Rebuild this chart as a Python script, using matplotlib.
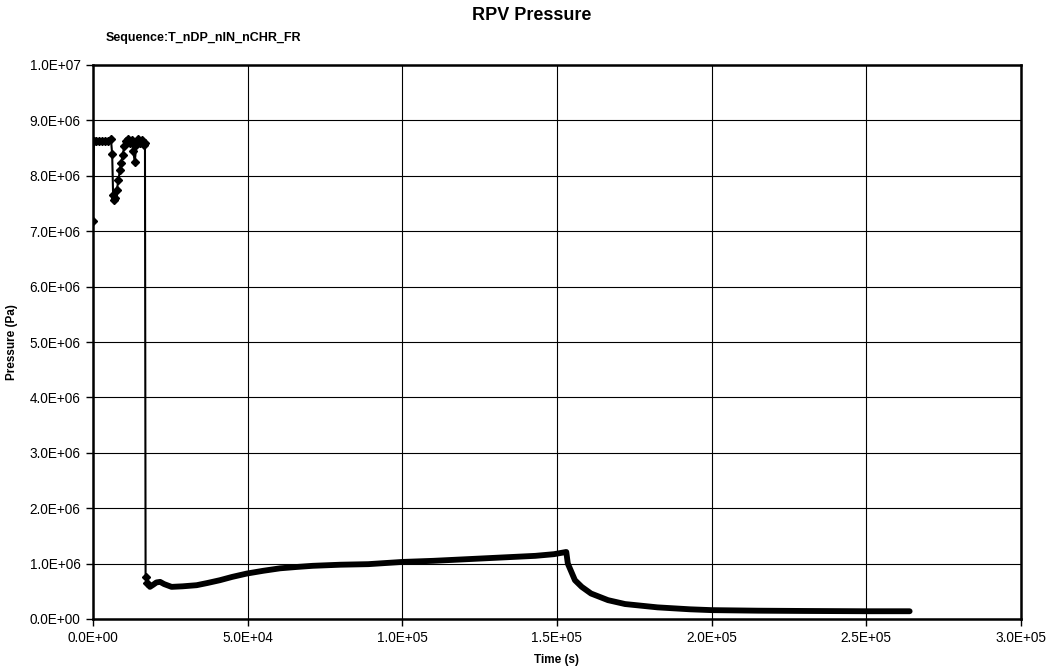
import matplotlib
matplotlib.use("Agg")
import matplotlib.pyplot as plt
from matplotlib.ticker import FuncFormatter, MultipleLocator

plt.rcParams['font.family'] = ['Liberation Sans', 'DejaVu Sans']

# Data (time in s, pressure in Pa)
time_s = [0, 300, 1000, 2000, 3000, 4000, 5000, 5800, 6200, 6500, 6800, 7200,
          7700, 8200, 8700, 9100, 9600, 10100, 10700, 11300, 11900, 12500,
          13000, 13500, 14000, 14600, 15200, 15800, 16400, 16800,
          17000, 17600, 18400, 19500, 20500, 21700, 23000, 25400, 29000,
          33500, 37000, 41000, 45000, 49700, 55000, 60500, 66000, 71000,
          80000, 89000, 100000, 110000, 121000, 132000, 143000, 149000,
          153000, 153500, 155800, 158000, 161000, 166500, 172000, 182500,
          193000, 200000, 215000, 230000, 250000, 264000]
pressure_pa = [7.19e6, 8.62e6, 8.62e6, 8.63e6, 8.62e6, 8.63e6, 8.62e6, 8.66e6,
               8.39e6, 7.65e6, 7.56e6, 7.60e6, 7.74e6, 7.92e6, 8.10e6, 8.23e6,
               8.38e6, 8.53e6, 8.62e6, 8.66e6, 8.60e6, 8.65e6, 8.45e6, 8.25e6,
               8.55e6, 8.66e6, 8.60e6, 8.65e6, 8.55e6, 8.60e6,
               0.76e6, 0.65e6, 0.58e6, 0.62e6, 0.66e6, 0.67e6, 0.63e6, 0.58e6,
               0.59e6, 0.61e6, 0.65e6, 0.70e6, 0.76e6, 0.82e6, 0.87e6, 0.915e6,
               0.94e6, 0.96e6, 0.98e6, 0.99e6, 1.03e6, 1.05e6, 1.08e6, 1.11e6,
               1.14e6, 1.17e6, 1.21e6, 1.00e6, 0.70e6, 0.58e6, 0.46e6, 0.34e6,
               0.27e6, 0.21e6, 0.175e6, 0.16e6, 0.15e6, 0.145e6, 0.14e6, 0.14e6]

title = "RPV Pressure"
subtitle = "Sequence:T_nDP_nIN_nCHR_FR"
x_label = "Time (s)"
y_label = "Pressure (Pa)"

fig = plt.figure(figsize=(10.54, 6.72), dpi=100)
ax = fig.add_axes([93/1054, 53/672, 928/1054, 554/672])

n_early = sum(1 for t in time_s if t <= 17600)
ax.plot(time_s, pressure_pa, color='black', lw=1.5, marker='D', ms=4,
        markevery=list(range(n_early)), zorder=3)
# dense marker band in the slow phase
late_t = [t for t in time_s if t >= 17600]
late_p = [p for t, p in zip(time_s, pressure_pa) if t >= 17600]
ax.plot(late_t, late_p, color='black', lw=4.2, solid_capstyle='round',
        solid_joinstyle='round', zorder=3)

ax.set_xlim(0, 3.0e5)
ax.set_ylim(0, 1.0e7)
ax.xaxis.set_major_locator(MultipleLocator(5e4))
ax.yaxis.set_major_locator(MultipleLocator(1e6))

def sci(v, pos):
    return "%.1E" % v

ax.xaxis.set_major_formatter(FuncFormatter(sci))
ax.yaxis.set_major_formatter(FuncFormatter(sci))
ax.tick_params(axis='both', direction='out', length=5, width=1,
               labelsize=9.8, pad=4)

ax.grid(True, color='black', lw=0.8, zorder=0)
ax.set_axisbelow(True)
for s in ax.spines.values():
    s.set_linewidth(1.8)
    s.set_color('black')

ax.set_xlabel(x_label, fontsize=8.5, fontweight='bold', labelpad=6)
ax.set_ylabel(y_label, fontsize=8.5, fontweight='bold', labelpad=8)

fig.text(0.504, 1 - 15/672, title, ha='center', va='center', fontsize=13,
         fontweight='bold')
fig.text(106/1054, 1 - 38/672, subtitle, ha='left', va='center',
         fontsize=9, fontweight='bold')

fig.savefig("out.png", dpi=100, facecolor='white')
